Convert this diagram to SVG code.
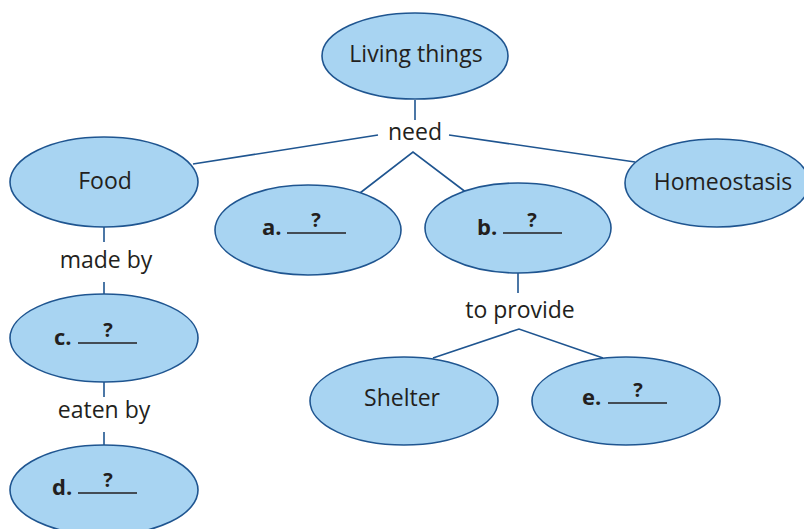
<svg xmlns="http://www.w3.org/2000/svg" width="804" height="529" viewBox="0 0 804 529">
  <style>
    .node { fill: #a8d4f2; stroke: #1f5590; stroke-width: 1.6; }
    .link { fill: none; stroke: #1f5590; stroke-width: 1.6; }
    .lbl { font-family: "Open Sans", "Noto Sans", sans-serif; font-size: 23px; fill: #231f20; text-anchor: middle; }
    .key { font-family: "Open Sans", "Noto Sans", sans-serif; font-size: 22px; font-weight: bold; fill: #231f20; }
    .q { font-family: "Open Sans", "Noto Sans", sans-serif; font-size: 20px; font-weight: bold; fill: #231f20; text-anchor: middle; }
    .blank { stroke: #231f20; stroke-width: 1.3; }
  </style>
  <rect width="804" height="529" fill="#ffffff"/>

  <!-- connectors and their linking phrases -->
  <g id="connectors">
    <line class="link" x1="415" y1="100" x2="415" y2="120"/>
    <line class="link" x1="378" y1="135" x2="193" y2="164"/>
    <line class="link" x1="449" y1="135" x2="635" y2="162"/>
    <polyline class="link" points="360,193 413,152 467,193"/>
    <line class="link" x1="104" y1="227" x2="104" y2="242"/>
    <line class="link" x1="104" y1="282" x2="104" y2="294"/>
    <line class="link" x1="104" y1="382" x2="104" y2="397"/>
    <line class="link" x1="104" y1="432" x2="104" y2="446"/>
    <line class="link" x1="518" y1="273" x2="518" y2="293"/>
    <polyline class="link" points="433,358 519,329 603,358"/>
    <text class="lbl" x="415" y="140">need</text>
    <text class="lbl" x="106" y="268">made by</text>
    <text class="lbl" x="104" y="418">eaten by</text>
    <text class="lbl" x="520" y="318">to provide</text>
  </g>

  <g id="living-things">
    <ellipse class="node" cx="415" cy="56" rx="93" ry="43"/>
    <text class="lbl" x="416" y="62">Living things</text>
  </g>

  <g id="food">
    <ellipse class="node" cx="104" cy="182" rx="94" ry="45"/>
    <text class="lbl" x="105" y="189">Food</text>
  </g>

  <g id="homeostasis">
    <ellipse class="node" cx="717" cy="183" rx="92" ry="44"/>
    <text class="lbl" x="723" y="190">Homeostasis</text>
  </g>

  <g id="node-a">
    <ellipse class="node" cx="308" cy="230" rx="93" ry="45"/>
    <text class="key" x="262" y="235">a.</text>
    <line class="blank" x1="287" y1="233" x2="346" y2="233"/>
    <text class="q" x="316" y="227">?</text>
  </g>

  <g id="node-b">
    <ellipse class="node" cx="518" cy="228" rx="93" ry="45"/>
    <text class="key" x="477" y="235">b.</text>
    <line class="blank" x1="503" y1="233" x2="562" y2="233"/>
    <text class="q" x="532" y="227">?</text>
  </g>

  <g id="node-c">
    <ellipse class="node" cx="104" cy="338" rx="94" ry="44"/>
    <text class="key" x="54" y="345">c.</text>
    <line class="blank" x1="78" y1="343" x2="137" y2="343"/>
    <text class="q" x="108" y="337">?</text>
  </g>

  <g id="node-d">
    <ellipse class="node" cx="104" cy="490" rx="94" ry="45"/>
    <text class="key" x="52" y="495">d.</text>
    <line class="blank" x1="78" y1="493" x2="137" y2="493"/>
    <text class="q" x="108" y="487">?</text>
  </g>

  <g id="shelter">
    <ellipse class="node" cx="404" cy="401" rx="94" ry="44"/>
    <text class="lbl" x="402" y="406">Shelter</text>
  </g>

  <g id="node-e">
    <ellipse class="node" cx="626" cy="401" rx="94" ry="44"/>
    <text class="key" x="582" y="405">e.</text>
    <line class="blank" x1="608" y1="403" x2="667" y2="403"/>
    <text class="q" x="638" y="397">?</text>
  </g>
</svg>
